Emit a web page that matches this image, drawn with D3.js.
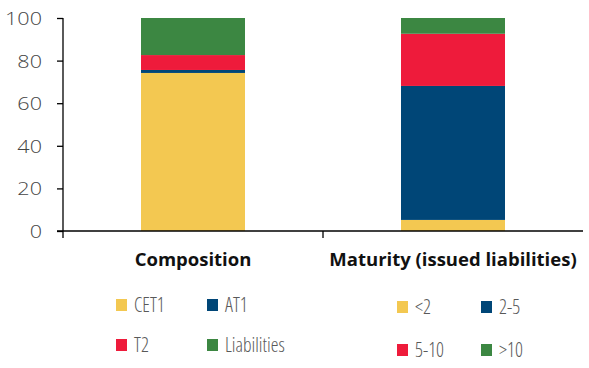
<!DOCTYPE html>
<html><head><meta charset="utf-8">
<script src="https://cdn.jsdelivr.net/npm/d3@7"></script>
<style>
body{margin:0;background:#fff;}
svg{display:block;}
.cond{font-family:"Open Sans",sans-serif;font-stretch:75%;font-weight:300;}
.tk{font-family:"Open Sans",sans-serif;font-weight:300;}
</style></head>
<body><svg id="c" width="589" height="368"></svg>
<script>
const categories = ["Composition", "Maturity (issued liabilities)"];
const compositionSeries = ["CET1", "AT1", "T2", "Liabilities"];
const compositionValues = [74.2, 1.4, 7.0, 17.4];
const maturitySeries = ["<2", "2-5", "5-10", ">10"];
const maturityValues = [5.2, 62.9, 24.5, 7.4];
const yTicks = [0, 20, 40, 60, 80, 100];
const colors = ["#f3c851", "#004677", "#ee1b3b", "#3c8742"];

const svg = d3.select("#c");
const x = d3.scaleBand().domain(categories).range([63, 583]).paddingInner(0).paddingOuter(0);
const y = d3.scaleLinear().domain([0, 100]).range([231, 18]);
const barW = x.bandwidth() * 0.4;

const groups = [
  {cat: categories[0], series: compositionSeries, values: compositionValues},
  {cat: categories[1], series: maturitySeries, values: maturityValues}
];

groups.forEach(g => {
  const cum = d3.cumsum(g.values);
  const segs = g.values.map((v, i) => ({y0: i ? cum[i-1] : 0, y1: cum[i], c: colors[i]}));
  svg.append("g").selectAll("rect").data(segs).join("rect")
    .attr("x", x(g.cat) + (x.bandwidth() - barW) / 2)
    .attr("width", barW)
    .attr("y", d => y(Math.min(100, d.y1)))
    .attr("height", d => y(d.y0) - y(Math.min(100, d.y1)))
    .attr("fill", d => d.c);
});

// y axis
const sx = 1.2;
const ya = svg.append("g").attr("transform", "translate(63,0)")
  .call(d3.axisLeft(y).tickValues(yTicks).tickSize(6).tickPadding(8).tickFormat(d3.format("d")));
ya.select(".domain").attr("d", "M0,18V238").attr("stroke", "#000").attr("stroke-width", 1.3);
ya.selectAll(".tick line").attr("stroke", "#000").attr("stroke-width", 1.3);
ya.selectAll(".tick text").attr("class", "tk").attr("font-size", 18).attr("fill", "#444")
  .attr("x", -21 / sx).attr("dy", "0.36em").attr("transform", `scale(${sx},1)`);

// x axis
const xa = svg.append("g").attr("transform", "translate(0,231)");
xa.append("line").attr("x1", 57).attr("x2", 583).attr("stroke", "#000").attr("stroke-width", 1.3);
xa.selectAll("line.t").data([x(categories[1])]).join("line").attr("class", "t")
  .attr("x1", d => d).attr("x2", d => d).attr("y1", 0).attr("y2", 7).attr("stroke", "#000").attr("stroke-width", 1.3);
svg.selectAll("text.cat").data(categories).join("text").attr("class", "cat")
  .attr("x", d => x(d) + x.bandwidth() / 2).attr("y", 266).attr("text-anchor", "middle")
  .attr("font-family", "'Open Sans',sans-serif").attr("font-weight", 700).attr("font-size", 18.5).attr("fill", "#111")
  .text(d => d);

// legends
function legend(series, cols, rows) {
  series.forEach((s, i) => {
    const cx = cols[i % 2], cy = rows[Math.floor(i / 2)];
    svg.append("rect").attr("x", cx).attr("y", cy).attr("width", 11).attr("height", 12).attr("fill", colors[i]);
    svg.append("text").attr("class", "cond").attr("x", cx + 18).attr("y", cy + 12.5)
      .attr("font-size", 19.5).attr("fill", "#595959").text(s);
  });
}
legend(compositionSeries, [116, 207], [299, 339]);
legend(maturitySeries, [397, 481], [301, 344]);
</script></body></html>
